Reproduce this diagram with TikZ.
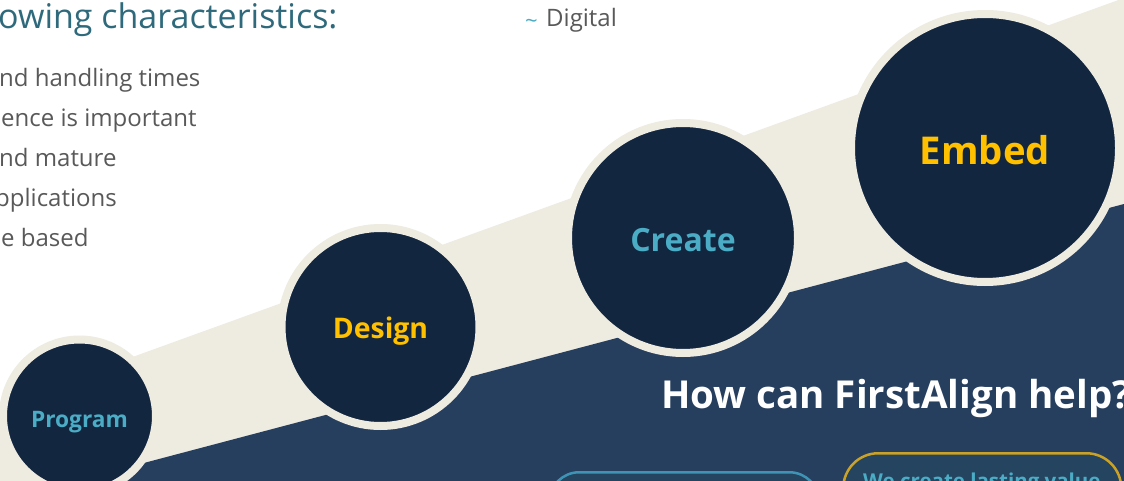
\documentclass[tikz,border=0pt]{standalone}
\usepackage{fontspec}
\setmainfont{Open Sans}
\definecolor{beige}{HTML}{EEEBE1}
\definecolor{navy}{HTML}{12263F}
\definecolor{region}{HTML}{273F5E}
\definecolor{boxfill}{HTML}{24445F}
\definecolor{aqua}{HTML}{4BACC6}
\definecolor{gold}{HTML}{FFC000}
\definecolor{goldline}{HTML}{C9A227}
\definecolor{aqualine}{HTML}{3F93B4}
\definecolor{heading}{HTML}{2F6A7C}
\definecolor{bodygray}{HTML}{595959}
\begin{document}
\begin{tikzpicture}[x=1pt,y=-1pt,
  stage/.style={circle, fill=navy, draw=beige, line width=8pt, inner sep=0pt},
  stagetext/.style={inner sep=0pt, font=\bfseries},
  bodytext/.style={anchor=base west, inner sep=0pt, text=bodygray, font=\fontsize{24}{28}\selectfont},
  offer/.style={anchor=north west, fill=boxfill, line width=2.5pt, inner sep=0pt}]
\useasboundingbox (0,0) rectangle (1124,481);
\clip (0,0) rectangle (1124,481);
\fill[white] (0,0) rectangle (1124,481);

% rising band and the dark area beneath it
\fill[beige] (0,405) -- (1124,-2) -- (1124,481) -- (0,481) -- cycle;
\fill[region] (0,501) -- (1124,204) -- (1124,481) -- (0,481) -- cycle;

% heading and list
\node[anchor=base west, inner sep=0pt, text=heading, font=\fontsize{34}{40}\selectfont] (head) at (-2,29) {owing characteristics:};
\node[bodytext] (l1) at (-1,87) {nd handling times};
\node[bodytext] (l2) at (1,127) {ence is important};
\node[bodytext] (l3) at (-1,167) {nd mature};
\node[bodytext] (l4) at (-5,207) {pplications};
\node[bodytext] (l5) at (1,247) {e based};
\node[bodytext] (dig) at (546,27) {Digital};
\node[anchor=base east, inner sep=0pt, text=aqua, font=\fontsize{22}{26}\selectfont] (tilde) at (538,29) {\char"007E};

% stages
\node[stage, minimum size=153pt] (program) at (79.5,416) {};
\node[stage, minimum size=198pt] (design) at (380.5,327) {};
\node[stage, minimum size=230pt] (create) at (683,238) {};
\node[stage, minimum size=268pt] (embed) at (985,148) {};
\node[stagetext, text=aqua, font=\bfseries\fontsize{22.7}{27}\selectfont] (programlbl) at ([yshift=-6pt]program.center) {Program};
\node[stagetext, text=gold, font=\bfseries\fontsize{28.4}{33}\selectfont] (designlbl) at ([yshift=-4pt]design.center) {Design};
\node[stagetext, text=aqua, font=\bfseries\fontsize{32}{37}\selectfont] (createlbl) at ([yshift=-2pt]create.center) {Create};
\node[stagetext, text=gold, font=\bfseries\fontsize{38.3}{44}\selectfont] (embedlbl) at ([yshift=-2pt]embed.center) {Embed};

% help section
\node[anchor=base west, inner sep=0pt, text=white, font=\bfseries\fontsize{38.5}{44}\selectfont] (help) at (661,408) {How can FirstAlign help?};
\node[offer, draw=aqualine, rounded corners=30pt, minimum width=270pt, minimum height=100pt] (box1) at (548,471) {};
\node[offer, draw=goldline, rounded corners=35pt, minimum width=278pt, minimum height=100pt] (box2) at (842,452) {};
\node[anchor=base west, inner sep=0pt, text=aqua, font=\bfseries\fontsize{20.5}{24}\selectfont] (value) at (863,488) {We create lasting value};
\end{tikzpicture}
\end{document}
